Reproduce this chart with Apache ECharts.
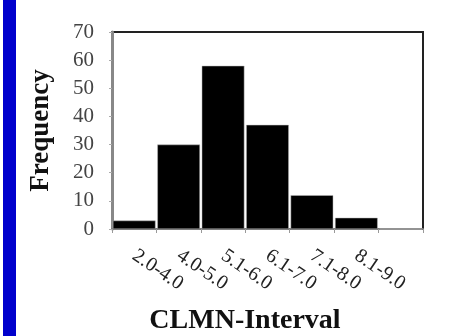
<!DOCTYPE html>
<html>
<head>
<meta charset="utf-8">
<style>
  html, body { margin: 0; padding: 0; width: 100%; height: 100%; overflow: hidden; background: #fff; }
</style>
<script src="https://cdn.jsdelivr.net/npm/echarts@6/dist/echarts.min.js"></script>
</head>
<body>
<div id="container" style="width: 470px; height: 336px;"></div>
<script>
  // interval labels (last bin has no label)
  var intervals = ['2.0-4.0', '4.0-5.0', '5.1-6.0', '6.1-7.0', '7.1-8.0', '8.1-9.0', ''];
  var frequency = [3, 30, 58, 37, 12, 4, 0];
  var yTicks = [0, 10, 20, 30, 40, 50, 60, 70];

  var chart = echarts.init(document.getElementById('container'), null, { renderer: 'canvas' });

  var serif = '"Liberation Serif", "Times New Roman", serif';

  var option = {
    animation: false,
    backgroundColor: '#fff',
    grid: {
      left: 112, right: 47, top: 32, bottom: 107,
      show: true,
      borderColor: '#222',
      borderWidth: 2,
      outerBoundsMode: 'none'
    },
    graphic: [
      { type: 'rect', shape: { x: 3, y: 0, width: 13, height: 336 }, style: { fill: '#0000cc' } },
      {
        type: 'text', x: 245, y: 321,
        style: {
          text: 'CLMN-Interval', fill: '#111', align: 'center', verticalAlign: 'middle',
          font: 'bold 28px ' + serif
        }
      }
    ],
    xAxis: {
      type: 'category',
      data: intervals,
      axisLine: { lineStyle: { color: '#777', width: 2 } },
      axisTick: { show: true, length: 4, lineStyle: { color: '#999' } },
      axisLabel: {
        interval: 0, rotate: -34, margin: 25,
        color: '#222', fontFamily: serif, fontSize: 20
      }
    },
    yAxis: {
      type: 'value',
      min: yTicks[0], max: yTicks[yTicks.length - 1], interval: 10,
      name: 'Frequency',
      nameLocation: 'middle',
      nameGap: 57,
      nameTextStyle: { fontFamily: serif, fontSize: 27, fontWeight: 'bold', color: '#111' },
      axisLine: { show: true, lineStyle: { color: '#888', width: 3 } },
      axisTick: { show: true, length: 3, lineStyle: { color: '#aaa' } },
      splitLine: { show: false },
      axisLabel: { margin: 18, color: '#444', fontFamily: serif, fontSize: 21 }
    },
    series: [{
      type: 'bar',
      data: frequency,
      barCategoryGap: '4%',
      itemStyle: { color: '#000', borderColor: '#bbb', borderWidth: 0.5 }
    }]
  };

  chart.setOption(option);
</script>
</body>
</html>
